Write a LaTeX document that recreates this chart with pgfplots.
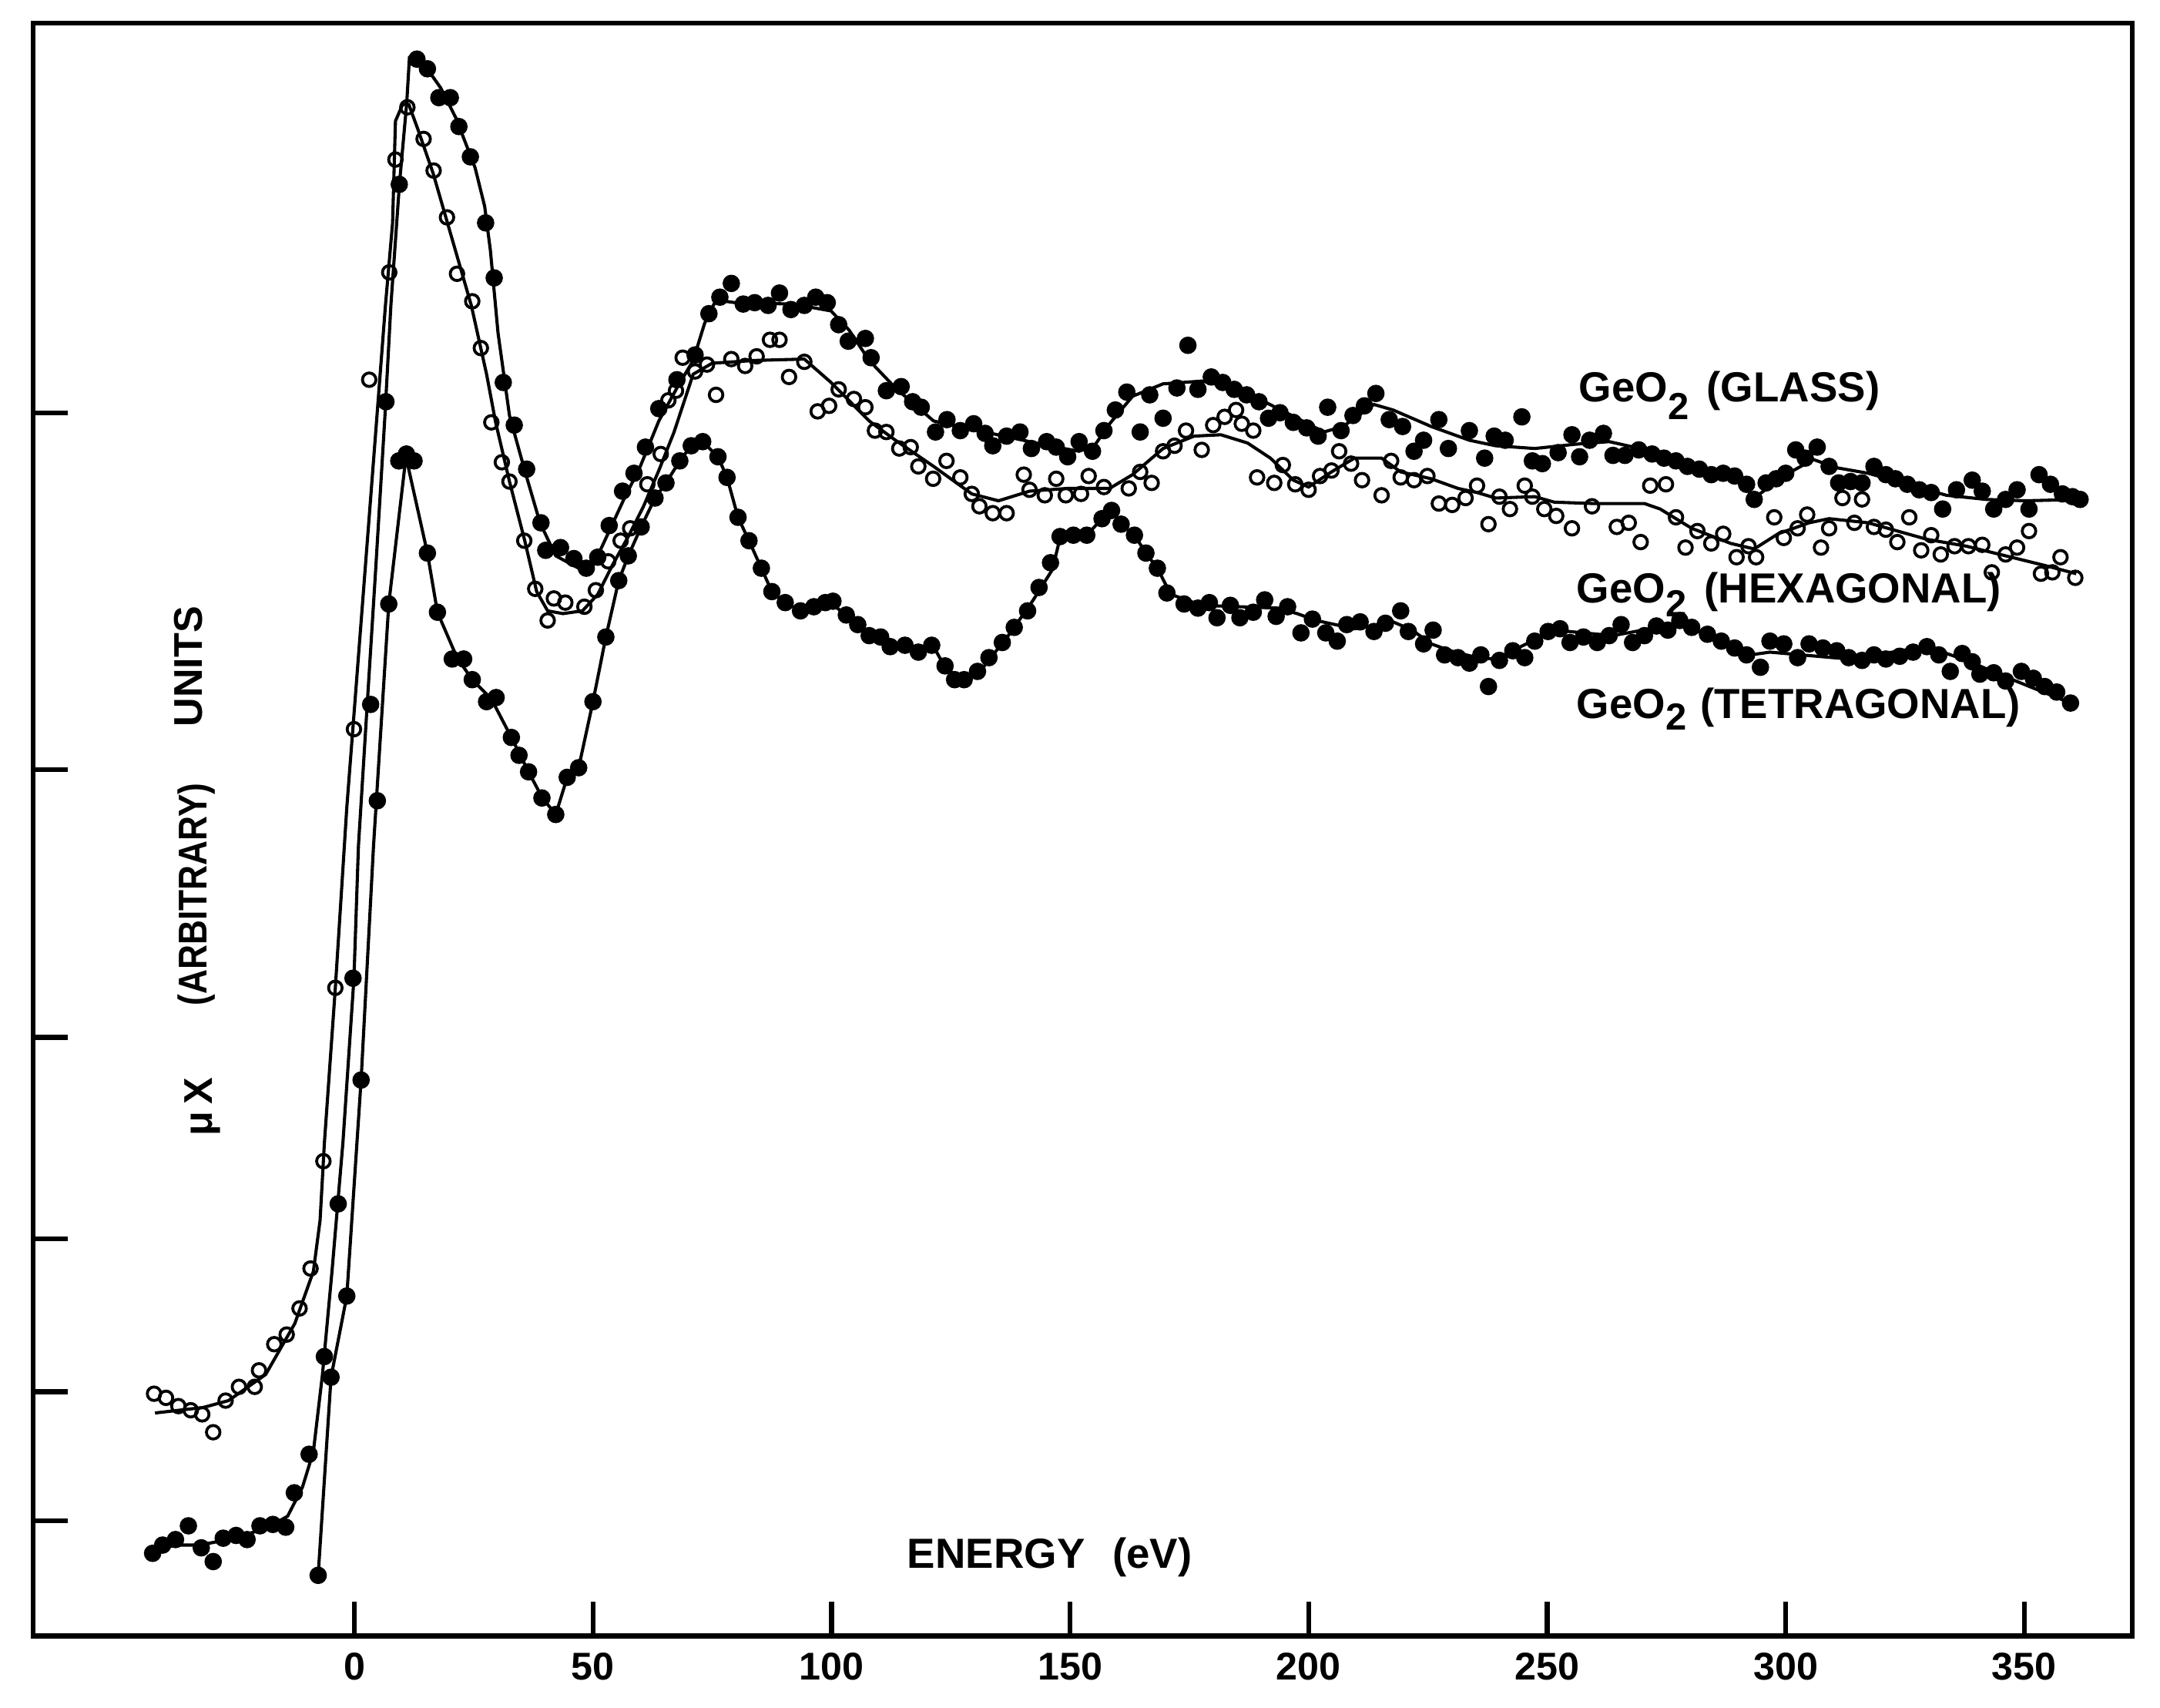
\documentclass[border=0pt]{standalone}
\usepackage{fontspec}
\setmainfont{Liberation Sans}
\usepackage{graphicx}
\usepackage{pgfplots}
\pgfplotsset{compat=1.18}
\newcommand{\lowtwo}[1]{\raisebox{-#1}{\fontsize{7.8}{8}\selectfont 2}}
\begin{document}
\begin{tikzpicture}
\begin{axis}[
  scale only axis,
  width=152.6mm, height=117.2mm,
  xmin=-67.33, xmax=372.7, ymin=0, ymax=1172,
  axis line style={line width=1pt},
  xtick={0,50,100,150,200,250,300,350},
  ytick={83.7,177.5,288.5,435,629.8,888.8},
  yticklabels={},
  tick pos=left,
  tick align=inside,
  major tick length=2.5mm,
  tick style={line width=1pt, black},
  ticklabel style={font=\fontsize{8}{9}\selectfont\bfseries},
  /pgf/number format/assume math mode=true,
  clip=false,
]
% bounding box of the whole sheet
\path (axis cs:-73.67,-52) rectangle (axis cs:378.46,1189);

% ---------------- GeO2 (GLASS): curve ----------------
\addplot[black, line width=0.65pt, no markers] coordinates {
(-42.9,59) (-37.9,66) (-32.5,66) (-26.4,70) (-18.6,78) (-14.0,87) (-10.9,108) (-8.6,134) (-6.7,190) (-4.7,265) (-2.4,359) (-0.1,478) (0.84,574) (2.68,677) (4.47,776) (6.40,887) (7.64,967) (9.43,1055) (10.96,1114) (11.53,1147) (13.12,1146) (15.25,1139) (18.1,1125) (21.3,1103) (25.3,1067) (27.3,1039) (28.5,1007) (30.1,947) (32.5,887) (35.7,847) (38.9,809) (42.2,785) (47.0,776) (50.2,779) (53.4,803) (56.6,827) (59.8,849) (63.8,883) (67.6,907) (71.0,927) (73.4,954) (75.8,971) (79.8,969) (91.9,968) (99.9,963) (103.7,949) (107.9,927) (113.4,907) (121.4,883) (129.4,877) (137.5,871) (145.5,865) (151.9,861) (155.1,865) (158.3,881) (163.1,901) (169.5,910) (177.6,912) (182.4,909) (189.6,899) (197.6,885) (203.2,875) (207.2,879) (213.7,895) (217.7,891) (225.7,879) (233.7,869) (239.2,865) (247.4,863) (255.6,866) (263.0,868) (272.0,861) (280.3,851) (290.1,841) (293.4,827) (300.0,844) (305.8,855) (310.7,849) (317.3,845) (325.5,837) (333.7,829) (342.0,826) (350.2,825) (361.7,826)
};
% ---------------- GeO2 (HEXAGONAL): curve ----------------
\addplot[black, line width=0.65pt, no markers] coordinates {
(-41.8,162) (-31.7,166) (-26.4,171) (-18.6,190) (-12.5,227) (-8.6,265) (-7.2,302) (-6.3,358) (-4.0,471) (-1.6,602) (4.0,854) (6.5,967) (8.0,1027) (8.6,1101) (10.1,1113) (11.4,1113) (13.3,1095) (16.5,1063) (20.5,1015) (24.5,967) (27.7,917) (29.6,882) (32.5,839) (35.7,796) (38.2,759) (40.5,745) (43.7,743) (47.8,745) (51.0,757) (54.2,779) (57.4,799) (60.6,821) (63.8,847) (67.0,875) (71.0,917) (75.0,925) (83.9,927) (94.3,928) (99.9,911) (107.9,883) (113.4,869) (121.4,850) (129.4,830) (135.0,825) (141.5,832) (149.5,834) (158.3,834) (163.1,844) (169.5,863) (176.0,872) (181.6,873) (187.2,867) (192.0,856) (196.8,840) (200.0,835) (204.8,846) (209.6,856) (215.3,856) (219.3,846) (225.7,841) (231.3,834) (235.3,831) (239.2,827) (247.4,828) (251.5,824) (259.7,823) (270.4,823) (273.7,819) (280.3,805) (288.5,794) (293.4,790) (298.4,801) (304.9,809) (309.1,812) (317.3,809) (325.5,801) (329.6,797) (337.9,792) (346.1,785) (354.3,778) (360.9,772)
};
% ---------------- GeO2 (TETRAGONAL): curve ----------------
\addplot[black, line width=0.65pt, no markers] coordinates {
(-7.6,44) (-4.9,188) (-1.6,247) (1.4,404) (4.0,574) (7.2,750) (10.8,857) (15.3,787) (17.4,744) (21.5,711) (24.7,695) (28.7,681) (32.9,653) (36.5,628) (39.4,609) (42.2,597) (44.6,624) (47.0,631) (50.0,679) (52.7,726) (55.4,767) (57.4,785) (60.1,806) (63.0,827) (65.3,838) (68.2,854) (70.6,865) (73.0,868) (76.2,857) (78.1,842) (80.4,813) (82.7,796) (85.3,776) (87.5,759) (90.3,751) (93.5,745) (96.3,748) (99.3,752) (103.1,742) (105.5,735) (107.9,727) (110.3,726) (113.4,719) (121.4,719) (123.8,704) (127.0,696) (131.8,704) (137.5,729) (142.3,753) (146.3,775) (147.9,798) (153.5,800) (156.7,812) (158.7,818) (160.7,808) (163.5,800) (165.9,787) (168.3,776) (171.1,757) (177.6,749) (193.6,747) (197.6,743) (201.6,738) (209.6,732) (217.7,737) (221.7,731) (225.7,721) (229.7,716) (235.3,711) (239.2,710) (251.5,731) (263.8,727) (277.8,736) (292.6,713) (296.7,715) (313.2,710) (329.6,719) (337.9,709) (346.1,697) (359.7,678)
};

% ---------------- HEXAGONAL data (open circles) ----------------
\addplot[only marks, mark=o, mark size=1.4pt, mark options={line width=0.6pt, black}] coordinates {
(-42.0,176) (-39.5,173) (-36.9,167) (-34.3,164) (-31.9,161) (-29.6,148) (-27.0,171) (-24.2,181) (-20.9,181) (-20.0,193) (-16.8,212) (-14.2,219) (-11.5,238) (-9.2,267) (-6.5,345) (-4.0,471) (-0.1,659) (3.1,913) (7.3,991) (8.6,1073) (11.1,1111) (14.5,1088) (16.6,1065) (19.4,1031) (21.5,990) (24.7,970) (26.5,936) (28.7,882) (30.9,853) (32.5,839) (35.6,796) (37.9,761) (40.5,738) (41.8,754) (44.2,751) (48.2,748) (50.6,760) (53.2,781) (55.8,796) (57.8,805) (61.4,837) (64.2,859) (65.8,898) (67.4,905) (68.8,929) (71.4,919) (73.9,924) (75.8,902) (79.0,928) (81.9,923) (84.3,930) (87.1,942) (89.1,942) (91.1,915) (94.3,926) (97.1,890) (99.5,894) (101.5,906) (104.7,899) (107.1,893) (109.1,876) (111.5,875) (114.2,863) (116.6,864) (118.2,850) (121.3,841) (124.1,854) (127.0,842) (129.4,830) (131.0,821) (133.8,816) (136.7,816) (140.3,844) (141.5,833) (144.7,829) (147.1,841) (149.1,829) (152.3,830) (153.9,843) (157.1,835) (162.3,834) (164.7,846) (167.1,838) (169.5,861) (171.9,865) (174.3,876) (177.6,862) (180.0,880) (182.4,886) (184.8,891) (186.0,881) (188.4,876) (189.2,842) (192.8,838) (194.6,851) (197.2,837) (200.0,833) (202.4,843) (204.8,847) (206.4,861) (208.9,852) (211.2,840) (215.3,829) (217.3,854) (219.3,842) (222.1,840) (224.9,843) (227.3,823) (230.1,822) (232.9,827) (235.3,836) (237.7,808) (240.0,828) (242.2,819) (245.3,836) (246.9,828) (249.4,819) (251.9,814) (255.2,805) (259.4,821) (264.6,806) (267.1,809) (269.6,795) (271.6,836) (274.9,837) (277.0,813) (279.0,791) (281.5,803) (284.4,794) (286.9,801) (289.7,784) (292.2,792) (293.8,784) (297.6,813) (299.6,798) (302.5,805) (304.5,815) (307.4,791) (309.1,805) (311.9,827) (314.4,809) (316.0,826) (318.5,806) (321.0,804) (323.4,795) (325.9,813) (328.4,789) (330.5,800) (332.5,786) (335.4,792) (338.3,792) (341.2,793) (343.2,773) (346.1,786) (348.5,791) (351.0,803) (353.5,772) (355.9,773) (357.6,784) (360.7,769)
};

% ---------------- GLASS data (filled circles) ----------------
\addplot[only marks, mark=*, mark size=1.6pt, mark options={fill=black, draw=black}] coordinates {
(-42.3,60) (-40.2,66) (-37.5,70) (-34.8,80) (-32.1,64) (-29.6,54) (-27.5,71) (-24.8,73) (-22.5,70) (-19.8,80) (-17.1,81) (-14.4,79) (-12.6,104) (-9.5,132) (-6.3,203) (-3.4,314) (-0.3,478) (3.4,677) (6.6,897) (9.4,1055) (13.1,1146) (15.3,1139) (17.7,1118) (20.1,1118) (21.9,1097) (24.3,1075) (27.5,1027) (29.3,987) (31.2,911) (33.5,880) (36.1,848) (39.1,809) (40.1,789) (43.2,791) (46.0,783) (48.6,776) (51.0,784) (53.4,807) (56.2,832) (58.6,845) (61.0,864) (63.8,892) (67.6,913) (71.4,931) (74.3,961) (76.6,973) (79.0,983) (81.5,968) (83.9,969) (86.7,967) (89.1,976) (91.5,964) (94.3,967) (96.7,973) (99.1,969) (101.5,953) (103.5,941) (107.1,943) (108.3,929) (111.5,905) (114.6,908) (117.0,897) (118.8,893) (121.8,875) (124.2,884) (127.0,876) (129.8,881) (132.2,874) (133.8,865) (136.7,872) (139.5,875) (141.9,863) (145.1,868) (147.1,864) (149.5,857) (151.9,868) (154.7,861) (157.1,876) (159.5,891) (161.9,904) (164.7,875) (166.7,902) (169.5,885) (172.4,907) (174.7,938) (176.8,906) (179.6,915) (182.0,911) (184.4,906) (187.0,902) (189.6,897) (191.6,885) (194.0,889) (196.8,882) (199.6,878) (202.0,872) (204.0,893) (206.8,876) (209.3,887) (211.7,894) (214.1,903) (216.9,884) (219.7,879) (222.1,861) (224.1,869) (227.3,884) (229.3,863) (233.7,876) (236.9,856) (238.9,872) (241.2,869) (244.7,886) (246.9,854) (249.0,852) (252.3,860) (255.2,873) (256.8,857) (258.9,869) (261.8,874) (263.8,858) (266.3,858) (269.2,862) (272.0,859) (274.5,856) (277.0,854) (279.4,850) (281.9,848) (284.4,844) (286.9,845) (289.3,843) (291.8,837) (293.4,826) (295.9,838) (298.0,841) (300.0,845) (302.1,862) (304.1,856) (306.6,864) (309.1,850) (311.1,838) (313.6,839) (316.0,838) (318.5,850) (321.0,844) (323.0,841) (325.5,837) (328.0,833) (330.5,831) (332.9,819) (335.8,833) (339.1,840) (341.2,832) (343.6,819) (346.1,826) (348.5,833) (351.0,819) (353.1,844) (355.5,837) (358.0,830) (360.1,828) (361.7,826)
};

% ---------------- TETRAGONAL data (filled circles) ----------------
\addplot[only marks, mark=*, mark size=1.6pt, mark options={fill=black, draw=black}] coordinates {
(-7.6,44) (-4.9,188) (-1.6,247) (1.4,404) (4.8,607) (7.2,750) (9.3,854) (10.9,859) (12.5,854) (15.3,787) (17.4,744) (20.5,710) (22.9,710) (24.7,695) (27.7,679) (29.7,682) (32.9,653) (34.5,640) (36.5,628) (39.3,609) (42.2,597) (44.6,624) (47.0,631) (50.0,679) (52.7,726) (55.4,767) (57.4,785) (60.1,806) (63.0,827) (65.3,838) (68.2,854) (70.6,865) (73.0,868) (76.2,857) (78.1,842) (80.4,813) (82.7,796) (85.3,776) (87.5,759) (90.3,751) (93.5,745) (96.3,748) (98.7,751) (100.3,752) (103.1,742) (105.5,735) (107.9,727) (110.3,726) (112.3,719) (115.4,720) (118.2,715) (121.0,720) (123.8,705) (125.8,695) (127.8,695) (130.6,701) (133.0,711) (135.8,722) (138.3,733) (141.1,745) (143.5,762) (145.9,780) (147.9,799) (150.7,800) (153.5,800) (156.7,812) (158.7,818) (160.7,808) (163.5,800) (165.9,787) (168.3,776) (170.3,758) (173.9,750) (176.8,747) (179.2,751) (180.8,740) (183.6,749) (185.6,740) (188.4,744) (190.8,753) (193.2,741) (195.6,748) (198.4,729) (200.8,739) (203.6,729) (206.0,723) (208.0,735) (210.8,737) (213.7,730) (216.1,736) (219.3,745) (220.9,730) (224.1,721) (226.1,731) (228.5,713) (231.3,711) (233.7,707) (236.1,713) (237.7,690) (240.0,709) (242.8,716) (245.3,711) (247.4,723) (250.2,730) (252.7,732) (254.8,722) (257.6,726) (260.5,722) (263.0,727) (265.5,735) (267.9,722) (270.4,727) (272.9,734) (275.3,731) (277.8,738) (280.3,733) (283.6,728) (286.5,723) (289.3,718) (291.8,713) (294.7,704) (296.7,723) (299.6,721) (302.5,711) (304.9,721) (307.8,718) (310.7,716) (313.2,711) (316.0,709) (318.5,713) (321.0,710) (323.9,712) (326.7,715) (329.6,719) (332.1,713) (334.5,701) (337.0,714) (339.1,708) (340.7,699) (343.6,700) (346.1,694) (349.4,701) (351.9,696) (354.3,690) (356.8,686) (359.7,678)
};

% ---------------- labels ----------------
\node[anchor=base west, inner sep=0, font=\fontsize{8.7}{10}\selectfont\bfseries] at (axis cs:256.5,897) {GeO\lowtwo{1.3mm}\hspace{1.3mm}(GLASS)};
\node[anchor=base west, inner sep=0, font=\fontsize{8.7}{10}\selectfont\bfseries] at (axis cs:256.0,751) {GeO\lowtwo{1.0mm}\hspace{1.3mm}(HEXAGONAL)};
\node[anchor=base west, inner sep=0, font=\fontsize{8.7}{10}\selectfont\bfseries] at (axis cs:256.0,667) {GeO\lowtwo{0.85mm}\hspace{1mm}(TETRAGONAL)};
\node[anchor=base west, inner sep=0, font=\fontsize{8.7}{10}\selectfont\bfseries] at (axis cs:115.7,49) {ENERGY\hspace{2mm}(eV)};
\node[anchor=base, rotate=90, inner sep=0, font=\fontsize{8.3}{10}\selectfont\bfseries] at (axis cs:-29.8,384.5) {μ\,X};
\node[anchor=base, rotate=90, inner sep=0, font=\fontsize{8.3}{10}\selectfont\bfseries] at (axis cs:-31.0,539) {\scalebox{0.85}[1]{(ARBITRARY)}};
\node[anchor=base, rotate=90, inner sep=0, font=\fontsize{8.3}{10}\selectfont\bfseries] at (axis cs:-31.9,704.5) {UNITS};
\end{axis}
\end{tikzpicture}
\end{document}
